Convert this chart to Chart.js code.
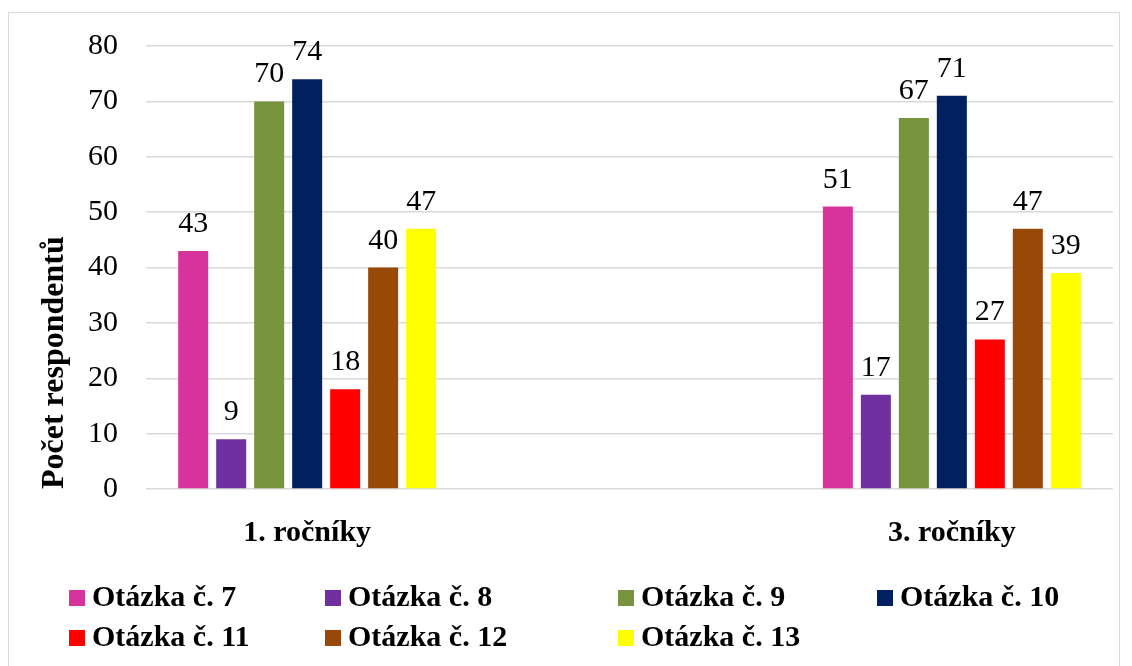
<!DOCTYPE html>
<html>
<head>
<meta charset="utf-8">
<script src="https://cdn.jsdelivr.net/npm/chart.js@4/dist/chart.umd.min.js"></script>
<style>
  html, body { margin: 0; padding: 0; background: #fff; }
  #wrap { position: relative; width: 1132px; height: 666px; }
  #frame { position: absolute; left: 8px; top: 12px; width: 1112px; height: 670px; border: 1.5px solid #d9d9d9; box-sizing: border-box; }
  #chart { position: absolute; left: 0; top: 0; }
</style>
</head>
<body>
<div id="wrap">
  <div id="frame"></div>
  <canvas id="chart" width="1132" height="666"></canvas>
</div>
<script>
// categories (middle slot is empty in the original chart)
const categories = ['1. ročníky', '', '3. ročníky'];

const seriesNames = ['Otázka č. 7', 'Otázka č. 8', 'Otázka č. 9', 'Otázka č. 10', 'Otázka č. 11', 'Otázka č. 12', 'Otázka č. 13'];
const seriesColors = ['#D6339B', '#7030A0', '#77933C', '#002060', '#FF0000', '#984807', '#FFFF00'];

const q7 = [43, null, 51];
const q8 = [9, null, 17];
const q9 = [70, null, 67];
const q10 = [74, null, 71];
const q11 = [18, null, 27];
const q12 = [40, null, 47];
const q13 = [47, null, 39];

const yTicks = [0, 10, 20, 30, 40, 50, 60, 70, 80];

const allValues = [q7, q8, q9, q10, q11, q12, q13];
const FONT = "'Liberation Serif', 'Times New Roman', serif";

// value labels above the bars
const valueLabels = {
    id: 'valueLabels',
    afterDatasetsDraw(chart) {
        const ctx = chart.ctx;
        ctx.save();
        ctx.font = '30px ' + FONT;
        ctx.fillStyle = '#000';
        ctx.textAlign = 'center';
        ctx.textBaseline = 'alphabetic';
        chart.data.datasets.forEach((ds, i) => {
            const meta = chart.getDatasetMeta(i);
            meta.data.forEach((bar, j) => {
                const v = ds.data[j];
                if (v === null || v === undefined) return;
                ctx.fillText(String(v), bar.x, bar.y - 19);
            });
        });
        ctx.restore();
    }
};

// legend laid out in a 4 column grid like the original
const gridLegend = {
    id: 'gridLegend',
    afterDraw(chart) {
        const ctx = chart.ctx;
        const colX = [69, 325, 618, 877];
        const rowY = [598, 638];
        ctx.save();
        ctx.font = 'bold 30px ' + FONT;
        ctx.textBaseline = 'middle';
        ctx.textAlign = 'left';
        chart.data.datasets.forEach((ds, i) => {
            const x = colX[i % 4];
            const y = rowY[Math.floor(i / 4)];
            ctx.fillStyle = ds.backgroundColor;
            ctx.fillRect(x, y - 8, 16, 16);
            ctx.fillStyle = '#000';
            ctx.fillText(ds.label, x + 23, y);
        });
        ctx.restore();
    }
};

new Chart(document.getElementById('chart'), {
    type: 'bar',
    data: {
        labels: categories,
        datasets: seriesNames.map((name, i) => ({
            label: name,
            data: allValues[i],
            backgroundColor: seriesColors[i],
            borderColor: '#ffffff',
            borderWidth: 0,
            categoryPercentage: 0.825,
            barPercentage: 0.79
        }))
    },
    options: {
        responsive: false,
        animation: false,
        layout: {
            padding: { left: 0, right: 19, top: 41, bottom: 117 }
        },
        plugins: {
            legend: { display: false },
            tooltip: { enabled: false }
        },
        scales: {
            x: {
                grid: { display: false },
                border: { display: false },
                ticks: {
                    color: '#000',
                    font: { family: FONT, size: 30, weight: 'bold' },
                    padding: 18,
                    maxRotation: 0
                },
                afterFit(scale) { scale.height = 60; }
            },
            y: {
                min: 0,
                max: 80,
                afterBuildTicks(scale) { scale.ticks = yTicks.map(v => ({ value: v })); },
                grid: { color: '#d9d9d9', lineWidth: 1.5, drawTicks: false },
                border: { display: false },
                ticks: {
                    color: '#000',
                    font: { family: FONT, size: 30 },
                    padding: 28
                },
                title: {
                    display: true,
                    text: 'Počet respondentů',
                    color: '#000',
                    align: 'start',
                    font: { family: FONT, size: 32, weight: 'bold' },
                    padding: { top: 36, bottom: 0 }
                },
                afterFit(scale) { scale.width = 146; }
            }
        }
    },
    plugins: [valueLabels, gridLegend]
});
</script>
</body>
</html>
